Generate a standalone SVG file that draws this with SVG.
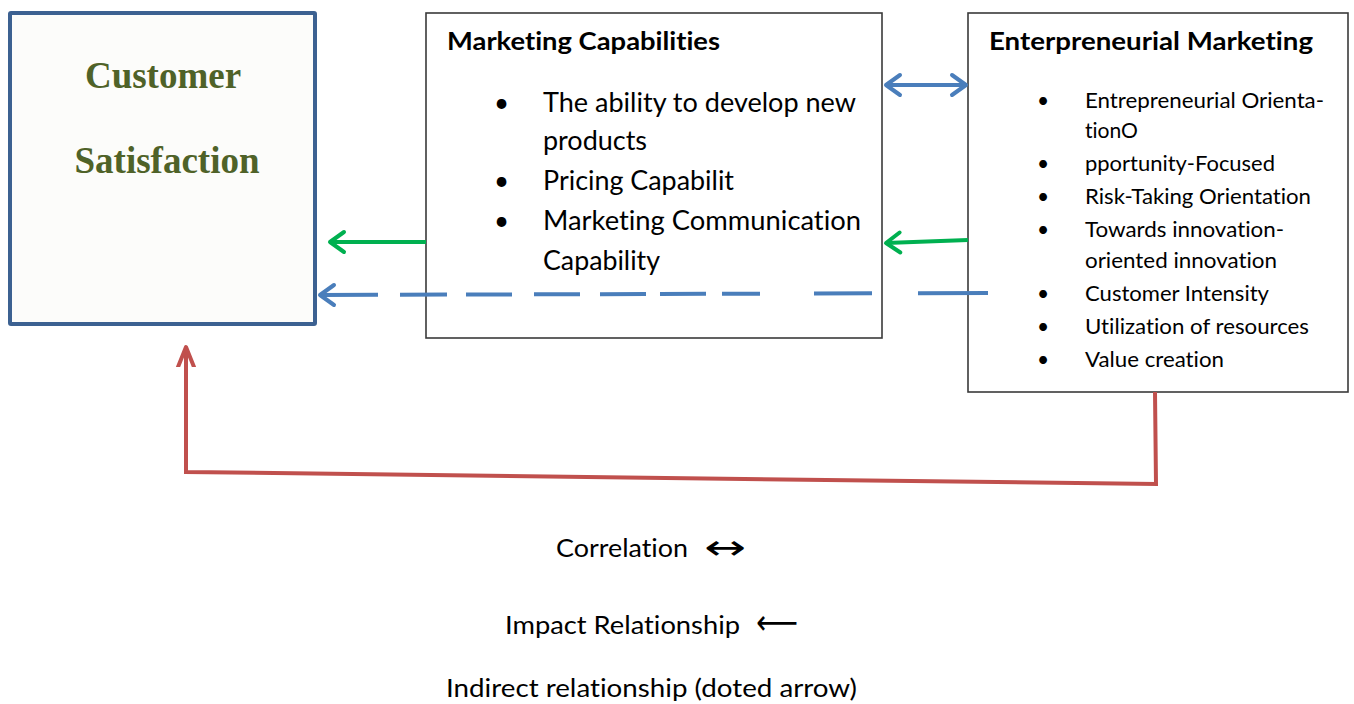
<svg xmlns="http://www.w3.org/2000/svg" width="1354" height="704" viewBox="0 0 1354 704">
<style>
text{font-variant-ligatures:none}
.box{fill:#ffffff;stroke:#3a3a3a;stroke-width:1.6}
.title{font-family:Lato,"Liberation Sans",sans-serif;font-weight:bold;font-size:24px;fill:#000}
.mc{font-family:Lato,"Liberation Sans",sans-serif;font-size:26px;fill:#000}
.em{font-family:Lato,"Liberation Sans",sans-serif;font-size:21px;fill:#000}
.leg{font-family:Lato,"Liberation Sans",sans-serif;font-size:25px;fill:#000}
.sym{font-family:"DejaVu Sans",sans-serif;font-size:34px;fill:#000}
.cs{font-family:"Liberation Serif",serif;font-weight:bold;font-size:37px;fill:#4f6228;text-anchor:middle}
.blue{stroke:#4a7ebb;stroke-width:4;fill:none}
.green{stroke:#00b050;stroke-width:4;fill:none}
.red{stroke:#c0504d;stroke-width:4;fill:none}
</style>
<defs>
<marker id="mBlue" markerUnits="userSpaceOnUse" markerWidth="30" markerHeight="30" viewBox="-20 -15 30 30" refX="0" refY="0" orient="auto-start-reverse">
<path d="M -14 -10 L 0 0 L -14 10" fill="none" stroke="#4a7ebb" stroke-width="4" stroke-linecap="round" stroke-linejoin="round"/>
</marker>
<marker id="mGreen" markerUnits="userSpaceOnUse" markerWidth="30" markerHeight="30" viewBox="-20 -15 30 30" refX="0" refY="0" orient="auto-start-reverse">
<path d="M -14 -10 L 0 0 L -14 10" fill="none" stroke="#00b050" stroke-width="4" stroke-linecap="round" stroke-linejoin="round"/>
</marker>
<marker id="mRed" markerUnits="userSpaceOnUse" markerWidth="30" markerHeight="30" viewBox="-20 -15 30 30" refX="0" refY="0" orient="auto-start-reverse">
<path d="M -20 -8 L 0 0 L -20 8" fill="none" stroke="#c0504d" stroke-width="4" stroke-linecap="round" stroke-linejoin="round"/>
</marker>
</defs>
<rect width="1354" height="704" fill="#ffffff"/>

<g id="customer-satisfaction">
<rect x="10" y="13" width="305" height="311" fill="#fcfcfa" stroke="#3c6191" stroke-width="4" rx="1"/>
<text class="cs" x="163" y="88">Customer</text>
<text class="cs" x="167" y="173">Satisfaction</text>
</g>

<g id="marketing-capabilities">
<rect class="box" x="426" y="13" width="456" height="325"/>
<text class="title" x="447" y="50" textLength="273" lengthAdjust="spacingAndGlyphs">Marketing Capabilities</text>
<g class="mc">
<text x="494" y="112">•</text>
<text x="543" y="112" textLength="313" lengthAdjust="spacingAndGlyphs">The ability to develop new</text>
<text x="543" y="150" textLength="104" lengthAdjust="spacingAndGlyphs">products</text>
<text x="494" y="190">•</text>
<text x="543" y="190" textLength="191" lengthAdjust="spacingAndGlyphs">Pricing Capabilit</text>
<text x="494" y="230">•</text>
<text x="543" y="230" textLength="318" lengthAdjust="spacingAndGlyphs">Marketing Communication</text>
<text x="543" y="270" textLength="117" lengthAdjust="spacingAndGlyphs">Capability</text>
</g>
</g>

<g id="entrepreneurial-marketing">
<rect class="box" x="968" y="13" width="380" height="379"/>
<text class="title" x="989" y="50" textLength="324" lengthAdjust="spacingAndGlyphs">Enterpreneurial Marketing</text>
<g class="em">
<text x="1037" y="108">•</text>
<text x="1085" y="108" textLength="239" lengthAdjust="spacingAndGlyphs">Entrepreneurial Orienta-</text>
<text x="1085" y="138" textLength="53" lengthAdjust="spacingAndGlyphs">tionO</text>
<text x="1037" y="171">•</text>
<text x="1085" y="171" textLength="190" lengthAdjust="spacingAndGlyphs">pportunity-Focused</text>
<text x="1037" y="204">•</text>
<text x="1085" y="204" textLength="226" lengthAdjust="spacingAndGlyphs">Risk-Taking Orientation</text>
<text x="1037" y="237">•</text>
<text x="1085" y="237" textLength="199" lengthAdjust="spacingAndGlyphs">Towards innovation-</text>
<text x="1085" y="268" textLength="192" lengthAdjust="spacingAndGlyphs">oriented innovation</text>
<text x="1037" y="301">•</text>
<text x="1085" y="301" textLength="184" lengthAdjust="spacingAndGlyphs">Customer Intensity</text>
<text x="1037" y="334">•</text>
<text x="1085" y="334" textLength="224" lengthAdjust="spacingAndGlyphs">Utilization of resources</text>
<text x="1037" y="367">•</text>
<text x="1085" y="367" textLength="139" lengthAdjust="spacingAndGlyphs">Value creation</text>
</g>
</g>

<g id="connectors">
<line class="blue" x1="886" y1="85" x2="966" y2="85" marker-start="url(#mBlue)" marker-end="url(#mBlue)"/>
<line class="green" x1="426" y1="242" x2="330" y2="242" marker-end="url(#mGreen)"/>
<line class="green" x1="968" y1="240" x2="886" y2="243" marker-end="url(#mGreen)"/>
<line class="blue" x1="988" y1="293" x2="320" y2="295" stroke-dasharray="70 46 58 54 38 16 46 14 46 20 46 22 46 19 47 22 60"/>
<line class="blue" x1="330" y1="295" x2="320" y2="295" marker-end="url(#mBlue)"/>
<polyline class="red" points="1155,392 1156,484 186,472 186,347" marker-end="url(#mRed)"/>
</g>

<g id="legend">
<text class="leg" x="556" y="557" textLength="132" lengthAdjust="spacingAndGlyphs">Correlation</text>
<text class="sym" x="704" y="559" textLength="42" lengthAdjust="spacingAndGlyphs">↔</text>
<text class="leg" x="505" y="634" textLength="235" lengthAdjust="spacingAndGlyphs">Impact Relationship</text>
<text class="sym" x="756" y="634" textLength="42" lengthAdjust="spacingAndGlyphs">⟵</text>
<text class="leg" x="446" y="697" textLength="411" lengthAdjust="spacingAndGlyphs">Indirect relationship (doted arrow)</text>
</g>
</svg>
